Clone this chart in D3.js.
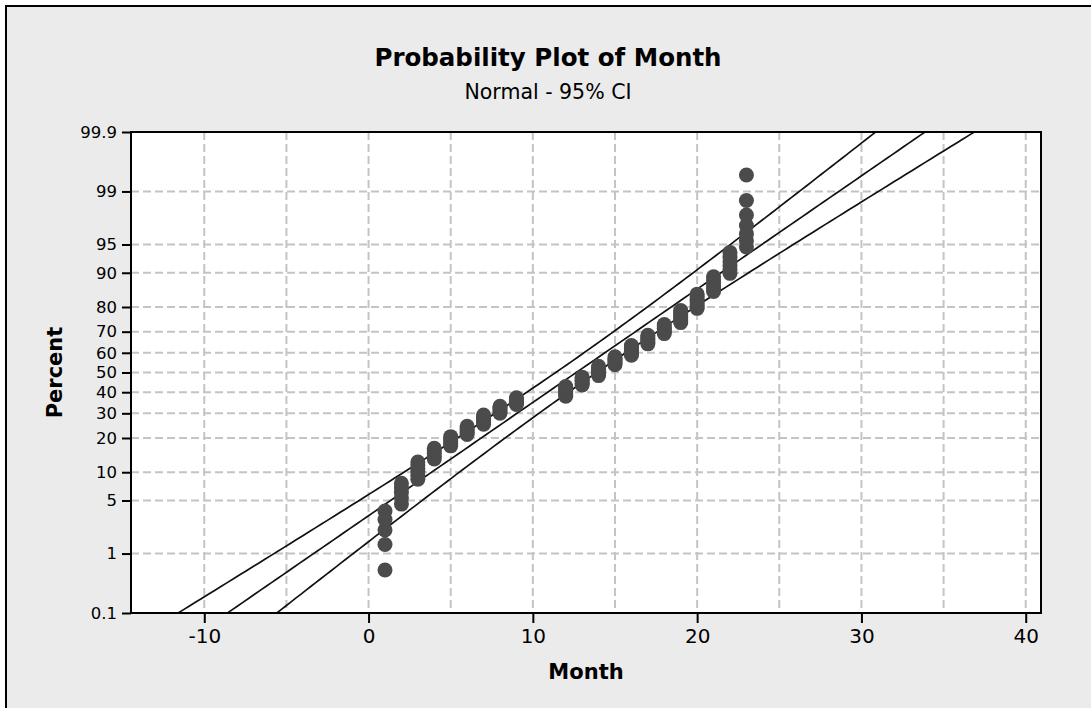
<!DOCTYPE html>
<html>
<head>
<meta charset="utf-8">
<script src="https://cdn.jsdelivr.net/npm/d3@7"></script>
<style>
  body { margin: 0; background: #fff; }
  svg text { font-family: "DejaVu Sans", Verdana, sans-serif; fill: #000; }
</style>
</head>
<body>
<div id="chart"></div>
<script>
// Data
const months = [1, 2, 3, 4, 5, 6, 7, 8, 9, 12, 13, 14, 15, 16, 17, 18, 19, 20, 21, 22, 23];
const monthCounts = [5, 5, 6, 5, 5, 5, 6, 5, 5, 7, 6, 7, 6, 7, 6, 6, 7, 7, 6, 6, 7];
const xTicks = [-10, 0, 10, 20, 30, 40];
const xGridValues = [-10, -5, 0, 5, 10, 15, 20, 25, 30, 35, 40];
const percentTicks = [0.1, 1, 5, 10, 20, 30, 40, 50, 60, 70, 80, 90, 95, 99, 99.9];
const fitMean = 12.64;
const fitStdDev = 6.87;
const ciHalfWidthAtMean = 1.25;

const width = 1091, height = 708;
const plot = { left: 131, top: 132, right: 1041, bottom: 613 };

// inverse of the standard normal cdf (Acklam)
const normInv = (p) => {
  const a = [-3.969683028665376e+01, 2.209460984245205e+02, -2.759285104469687e+02, 1.383577518672690e+02, -3.066479806614716e+01, 2.506628277459239e+00];
  const b = [-5.447609879822406e+01, 1.615858368580409e+02, -1.556989798598866e+02, 6.680131188771972e+01, -1.328068155288572e+01];
  const c = [-7.784894002430293e-03, -3.223964580411365e-01, -2.400758277161838e+00, -2.549732539343734e+00, 4.374664141464968e+00, 2.938163982698783e+00];
  const d = [7.784695709041462e-03, 3.224671290700398e-01, 2.445134137142996e+00, 3.754408661907416e+00];
  const pl = 0.02425;
  let q, r;
  if (p < pl) {
    q = Math.sqrt(-2 * Math.log(p));
    return (((((c[0]*q+c[1])*q+c[2])*q+c[3])*q+c[4])*q+c[5]) / ((((d[0]*q+d[1])*q+d[2])*q+d[3])*q+1);
  }
  if (p > 1 - pl) {
    q = Math.sqrt(-2 * Math.log(1 - p));
    return -(((((c[0]*q+c[1])*q+c[2])*q+c[3])*q+c[4])*q+c[5]) / ((((d[0]*q+d[1])*q+d[2])*q+d[3])*q+1);
  }
  q = p - 0.5; r = q * q;
  return (((((a[0]*r+a[1])*r+a[2])*r+a[3])*r+a[4])*r+a[5])*q / (((((b[0]*r+b[1])*r+b[2])*r+b[3])*r+b[4])*r+1);
};

// expand to observations, median ranks for plotting positions
const obs = [];
months.forEach((m, i) => { for (let k = 0; k < monthCounts[i]; k++) obs.push(m); });
const n = obs.length;
const points = obs.map((m, i) => ({ month: m, z: normInv((i + 1 - 0.3) / (n + 0.4)) }));

const svg = d3.select("#chart")
  .append("svg")
    .attr("width", width)
    .attr("height", height);

// Frame
svg.append("rect")
  .attr("x", 6).attr("y", 6)
  .attr("width", width + 20).attr("height", height + 20)
  .attr("fill", "#ebebeb")
  .attr("stroke", "#000")
  .attr("stroke-width", 2);

// Scales
const xScale = d3.scaleLinear()
  .domain([-14.46, 40.93])
  .range([plot.left, plot.right]);
const zMax = normInv(0.999);
const yScale = d3.scaleLinear()
  .domain([-zMax, zMax])
  .range([plot.bottom, plot.top]);

svg.append("rect")
  .attr("x", plot.left).attr("y", plot.top)
  .attr("width", plot.right - plot.left).attr("height", plot.bottom - plot.top)
  .attr("fill", "#fff");

svg.append("defs").append("clipPath")
    .attr("id", "clip")
  .append("rect")
    .attr("x", plot.left).attr("y", plot.top)
    .attr("width", plot.right - plot.left).attr("height", plot.bottom - plot.top);

// Grid
const grid = svg.append("g")
  .attr("stroke", "#c4c4c4")
  .attr("stroke-width", 2)
  .attr("stroke-dasharray", "8,4");
grid.selectAll(".gx")
  .data(xGridValues)
  .join("line")
    .attr("x1", d => xScale(d)).attr("x2", d => xScale(d))
    .attr("y1", plot.top).attr("y2", plot.bottom);
grid.selectAll(".gy")
  .data(percentTicks.slice(1, -1))
  .join("line")
    .attr("x1", plot.left).attr("x2", plot.right)
    .attr("y1", d => yScale(normInv(d / 100))).attr("y2", d => yScale(normInv(d / 100)));

// Fitted line and 95% CI
const zs = d3.range(-3.6, 3.61, 0.05);
const halfWidth = z => ciHalfWidthAtMean * Math.sqrt(1 + z * z / 2);
const lineGen = (offset) => d3.line()
  .x(z => xScale(fitMean + fitStdDev * z + offset(z)))
  .y(z => yScale(z));
const lines = svg.append("g").attr("clip-path", "url(#clip)");
[z => -halfWidth(z), z => 0, z => halfWidth(z)].forEach(off => {
  lines.append("path")
    .attr("d", lineGen(off)(zs))
    .attr("fill", "none")
    .attr("stroke", "#111")
    .attr("stroke-width", 1.7);
});

// Points
svg.append("g")
  .selectAll("circle")
  .data(points)
  .join("circle")
    .attr("cx", d => xScale(d.month))
    .attr("cy", d => yScale(d.z))
    .attr("r", 7.5)
    .attr("fill", "#4b4b4b");

// Plot border
svg.append("rect")
  .attr("x", plot.left).attr("y", plot.top)
  .attr("width", plot.right - plot.left).attr("height", plot.bottom - plot.top)
  .attr("fill", "none")
  .attr("stroke", "#000")
  .attr("stroke-width", 2);

// Axes
const bottomAxis = svg.append("g")
  .attr("transform", `translate(0, ${plot.bottom})`)
  .call(d3.axisBottom(xScale).tickValues(xTicks).tickSize(10).tickPadding(6).tickFormat(d => String(d)));
bottomAxis.select(".domain").remove();
bottomAxis.selectAll("line").attr("stroke", "#000").attr("stroke-width", 2);
bottomAxis.selectAll("text").attr("font-size", "20px").attr("fill", "#000");

const leftAxis = svg.append("g")
  .attr("transform", `translate(${plot.left}, 0)`)
  .call(d3.axisLeft(yScale)
    .tickValues(percentTicks.map(p => normInv(p / 100)))
    .tickSize(9).tickPadding(5)
    .tickFormat((d, i) => percentTicks[i]));
leftAxis.select(".domain").remove();
leftAxis.selectAll("line").attr("stroke", "#000").attr("stroke-width", 2);
leftAxis.selectAll("text").attr("font-size", "16.5px").attr("fill", "#000");

// Titles
svg.append("text")
  .attr("x", 548).attr("y", 66)
  .attr("text-anchor", "middle")
  .attr("font-size", "24.5px")
  .attr("font-weight", "bold")
  .text("Probability Plot of Month");
svg.append("text")
  .attr("x", 548).attr("y", 99)
  .attr("text-anchor", "middle")
  .attr("font-size", "20.5px")
  .text("Normal - 95% CI");
svg.append("text")
  .attr("x", (plot.left + plot.right) / 2).attr("y", 679)
  .attr("text-anchor", "middle")
  .attr("font-size", "21px")
  .attr("font-weight", "bold")
  .text("Month");
svg.append("text")
  .attr("transform", `translate(62, ${(plot.top + plot.bottom) / 2}) rotate(-90)`)
  .attr("text-anchor", "middle")
  .attr("font-size", "21px")
  .attr("font-weight", "bold")
  .text("Percent");
</script>
</body>
</html>
